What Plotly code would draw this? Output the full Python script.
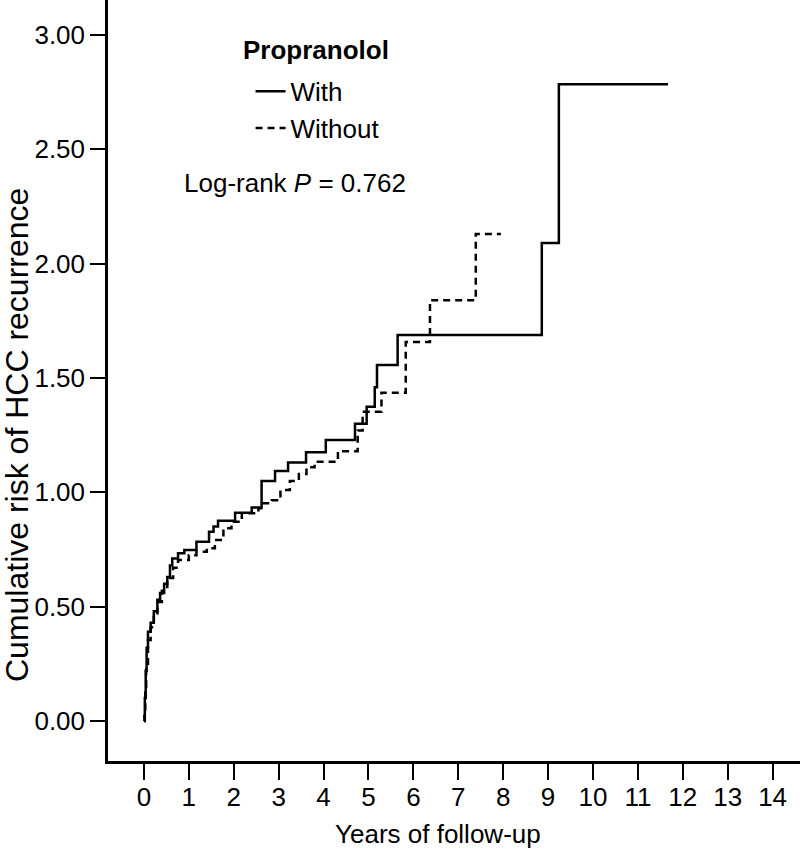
import plotly.graph_objects as go

# Cumulative risk (Kaplan-Meier style step curves)
with_years = [0, 0.02, 0.04, 0.06, 0.09, 0.15, 0.22, 0.30, 0.36, 0.45, 0.52, 0.58, 0.63,
              0.76, 0.90, 1.17, 1.45, 1.55, 1.65, 2.03, 2.40, 2.62, 2.92, 3.21, 3.61,
              4.05, 4.70, 4.96, 5.14, 5.19, 5.65, 8.86, 9.24, 11.67]
with_risk = [0, 0.10, 0.22, 0.32, 0.39, 0.43, 0.48, 0.53, 0.56, 0.60, 0.63, 0.68, 0.711,
             0.733, 0.748, 0.784, 0.828, 0.85, 0.876, 0.911, 0.934, 1.05, 1.093, 1.13, 1.175,
             1.229, 1.30, 1.374, 1.46, 1.557, 1.688, 2.09, 2.785, 2.785]

without_years = [0, 0.01, 0.03, 0.05, 0.09, 0.15, 0.22, 0.30, 0.40, 0.52, 0.65, 0.76, 1.00,
                 1.17, 1.40, 1.58, 1.77, 1.95, 2.18, 2.55, 2.66, 2.85, 3.04, 3.25, 3.45,
                 3.62, 3.80, 4.32, 4.76, 4.87, 5.29, 5.83, 6.37, 7.39, 7.95]
without_risk = [0, 0.05, 0.15, 0.25, 0.354, 0.41, 0.46, 0.52, 0.57, 0.625, 0.67, 0.704, 0.725,
                0.74, 0.755, 0.791, 0.843, 0.871, 0.908, 0.93, 0.952, 0.965, 1.01, 1.05, 1.08,
                1.11, 1.134, 1.18, 1.27, 1.352, 1.435, 1.657, 1.84, 2.13, 2.13]

x_ticks = list(range(0, 15))
y_ticks = [0.0, 0.5, 1.0, 1.5, 2.0, 2.5, 3.0]
y_tick_labels = ["0.00", "0.50", "1.00", "1.50", "2.00", "2.50", "3.00"]

FONT = "Liberation Sans, Arial, Helvetica, sans-serif"

fig = go.Figure()
fig.add_trace(go.Scatter(
    x=with_years, y=with_risk, mode="lines", name="With",
    line=dict(shape="hv", color="black", width=2.5)))
fig.add_trace(go.Scatter(
    x=without_years, y=without_risk, mode="lines", name="Without",
    line=dict(shape="hv", color="black", width=2.5, dash="7px,5px")))

fig.update_layout(
    width=800, height=849,
    margin=dict(l=108, r=0, t=0, b=88),
    plot_bgcolor="white", paper_bgcolor="white",
    font=dict(family=FONT, size=26, color="black"),
    showlegend=True,
    legend=dict(
        x=0.206, y=0.911, xanchor="left", yanchor="top",
        bgcolor="rgba(0,0,0,0)", font=dict(family=FONT, size=26),
        tracegroupgap=0),
    annotations=[
        dict(text="<b>Propranolol</b>", xref="paper", yref="paper",
             x=0.192, y=0.934, xanchor="left", yanchor="middle", showarrow=False,
             font=dict(family=FONT, size=26)),
        dict(text="Log-rank <i>P</i> = 0.762", xref="paper", yref="paper",
             x=0.107, y=0.7595, xanchor="left", yanchor="middle", showarrow=False,
             font=dict(family=FONT, size=26)),
        dict(text="Years of follow-up", xref="paper", yref="paper",
             x=0.477, y=-0.0959, xanchor="center", yanchor="middle", showarrow=False,
             font=dict(family=FONT, size=26)),
        dict(text="Cumulative risk of HCC recurrence", xref="paper", yref="paper",
             x=-0.1315, y=0.4284, xanchor="center", yanchor="middle", showarrow=False,
             textangle=-90, font=dict(family=FONT, size=32)),
    ],
)

fig.update_xaxes(
    range=[-0.80, 14.61], tickvals=x_ticks, ticks="outside", ticklen=16, tickwidth=2,
    tickcolor="black", showline=True, linecolor="black", linewidth=2.5,
    showgrid=False, zeroline=False, tickfont=dict(family=FONT, size=26),
    ticklabelstandoff=-5)
fig.update_yaxes(
    range=[-0.175, 3.153], tickvals=y_ticks, ticktext=y_tick_labels, ticks="outside",
    ticklen=15, tickwidth=2, tickcolor="black", showline=True, linecolor="black",
    linewidth=2.5, showgrid=False, zeroline=False, tickfont=dict(family=FONT, size=26))

fig.write_html("out.html", config={"displayModeBar": False},
               post_script="document.body.style.margin='0';")
